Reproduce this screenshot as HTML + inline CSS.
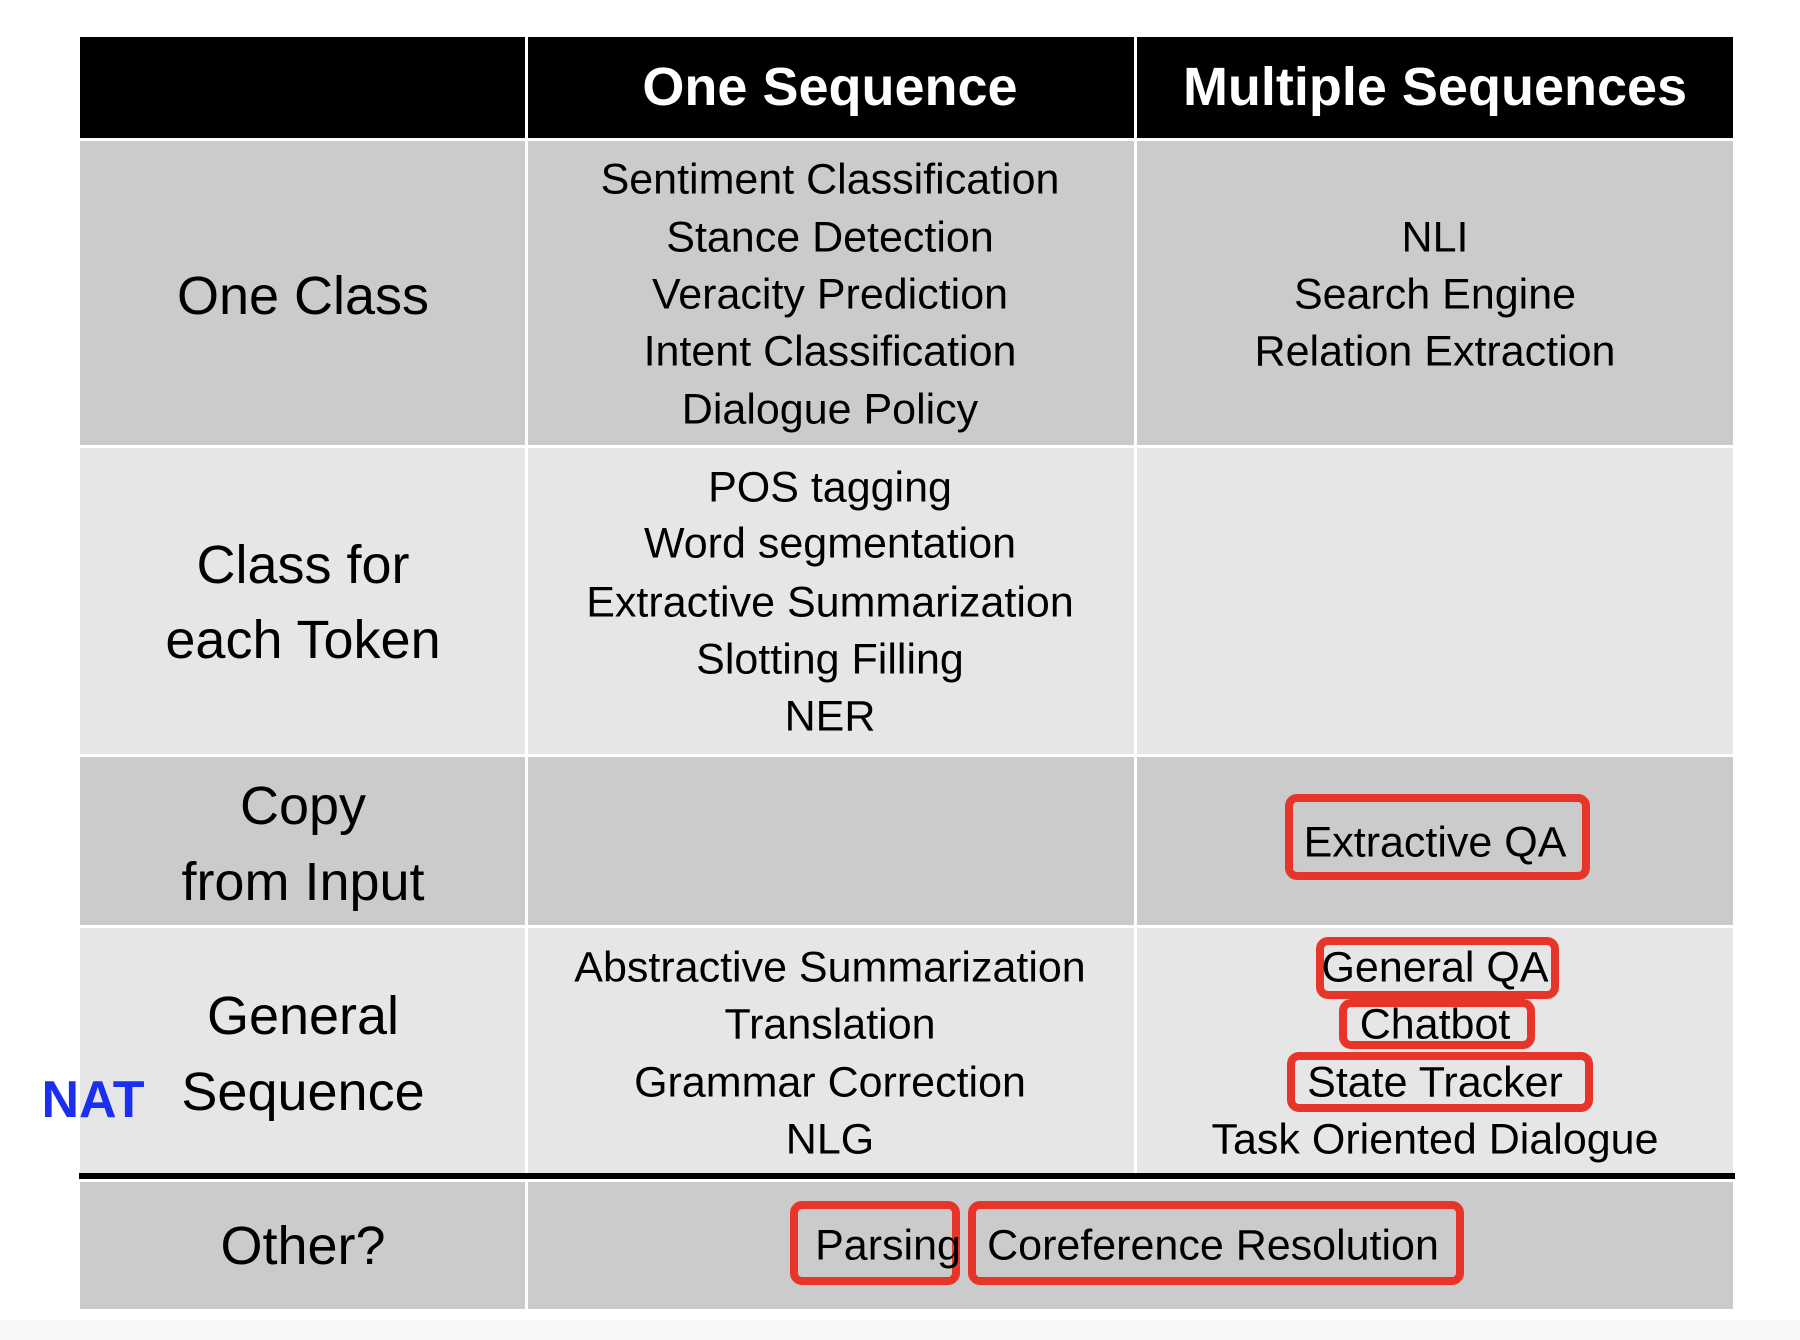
<!DOCTYPE html>
<html><head><meta charset="utf-8"><style>
body{margin:0;width:1800px;height:1340px;background:#fff;position:relative;overflow:hidden;font-family:"Liberation Sans",sans-serif;}
.c{position:absolute;}
.t{position:absolute;transform:translate(-50%,-50%);white-space:nowrap;color:#000;font-size:43px;}
.l{font-size:54px;}
.h{color:#fff;font-weight:bold;font-size:54px;}
.r{position:absolute;border:8px solid #e8352a;border-radius:12px;box-sizing:border-box;}
</style></head><body>
<div class="c" style="left:0;top:1320px;width:1800px;height:20px;background:#f7f7f7"></div>
<div class="c" style="left:80px;top:37px;width:1653px;height:101px;background:#000"></div>
<div class="c" style="left:525px;top:37px;width:3px;height:101px;background:#fff"></div>
<div class="c" style="left:1134px;top:37px;width:3px;height:101px;background:#fff"></div>

<div class="c" style="left:80px;top:141px;width:445px;height:304px;background:#cbcbcb"></div>
<div class="c" style="left:528px;top:141px;width:606px;height:304px;background:#cbcbcb"></div>
<div class="c" style="left:1137px;top:141px;width:596px;height:304px;background:#cbcbcb"></div>

<div class="c" style="left:80px;top:448px;width:445px;height:306px;background:#e6e6e6"></div>
<div class="c" style="left:528px;top:448px;width:606px;height:306px;background:#e6e6e6"></div>
<div class="c" style="left:1137px;top:448px;width:596px;height:306px;background:#e6e6e6"></div>

<div class="c" style="left:80px;top:757px;width:445px;height:168px;background:#cbcbcb"></div>
<div class="c" style="left:528px;top:757px;width:606px;height:168px;background:#cbcbcb"></div>
<div class="c" style="left:1137px;top:757px;width:596px;height:168px;background:#cbcbcb"></div>

<div class="c" style="left:80px;top:928px;width:445px;height:245px;background:#e6e6e6"></div>
<div class="c" style="left:528px;top:928px;width:606px;height:245px;background:#e6e6e6"></div>
<div class="c" style="left:1137px;top:928px;width:596px;height:245px;background:#e6e6e6"></div>

<div class="c" style="left:79px;top:1173px;width:1656px;height:6px;background:#000"></div>

<div class="c" style="left:80px;top:1182px;width:445px;height:127px;background:#cbcbcb"></div>
<div class="c" style="left:528px;top:1182px;width:1205px;height:127px;background:#cbcbcb"></div>

<div class="t h" style="left:830px;top:87px">One Sequence</div>
<div class="t h" style="left:1435px;top:87px">Multiple Sequences</div>

<div class="t l" style="left:303px;top:296px">One Class</div>
<div class="t" style="left:830px;top:180px">Sentiment Classification</div>
<div class="t" style="left:830px;top:238px">Stance Detection</div>
<div class="t" style="left:830px;top:295px">Veracity Prediction</div>
<div class="t" style="left:830px;top:352px">Intent Classification</div>
<div class="t" style="left:830px;top:410px">Dialogue Policy</div>
<div class="t" style="left:1435px;top:238px">NLI</div>
<div class="t" style="left:1435px;top:295px">Search Engine</div>
<div class="t" style="left:1435px;top:352px">Relation Extraction</div>

<div class="t l" style="left:303px;top:565px">Class for</div>
<div class="t l" style="left:303px;top:640px">each Token</div>
<div class="t" style="left:830px;top:488px">POS tagging</div>
<div class="t" style="left:830px;top:544px">Word segmentation</div>
<div class="t" style="left:830px;top:603px">Extractive Summarization</div>
<div class="t" style="left:830px;top:660px">Slotting Filling</div>
<div class="t" style="left:830px;top:717px">NER</div>

<div class="t l" style="left:303px;top:806px">Copy</div>
<div class="t l" style="left:303px;top:882px">from Input</div>
<div class="r" style="left:1285px;top:794px;width:305px;height:86px"></div>
<div class="t" style="left:1435px;top:843px">Extractive QA</div>

<div class="t l" style="left:303px;top:1016px">General</div>
<div class="t l" style="left:303px;top:1092px">Sequence</div>
<div class="t" style="left:93px;top:1100px;color:#1a2ff0;font-weight:bold;font-size:52px">NAT</div>
<div class="t" style="left:830px;top:968px">Abstractive Summarization</div>
<div class="t" style="left:830px;top:1025px">Translation</div>
<div class="t" style="left:830px;top:1083px">Grammar Correction</div>
<div class="t" style="left:830px;top:1140px">NLG</div>
<div class="r" style="left:1316px;top:937px;width:243px;height:62px"></div>
<div class="r" style="left:1339px;top:999px;width:196px;height:50px"></div>
<div class="r" style="left:1287px;top:1052px;width:306px;height:60px"></div>
<div class="t" style="left:1435px;top:968px">General QA</div>
<div class="t" style="left:1435px;top:1025px">Chatbot</div>
<div class="t" style="left:1435px;top:1083px">State Tracker</div>
<div class="t" style="left:1435px;top:1140px">Task Oriented Dialogue</div>

<div class="t l" style="left:303px;top:1246px">Other?</div>
<div class="r" style="left:790px;top:1201px;width:170px;height:84px"></div>
<div class="r" style="left:968px;top:1201px;width:496px;height:84px"></div>
<div class="t" style="left:888px;top:1246px">Parsing</div>
<div class="t" style="left:1213px;top:1246px">Coreference Resolution</div>
</body></html>
